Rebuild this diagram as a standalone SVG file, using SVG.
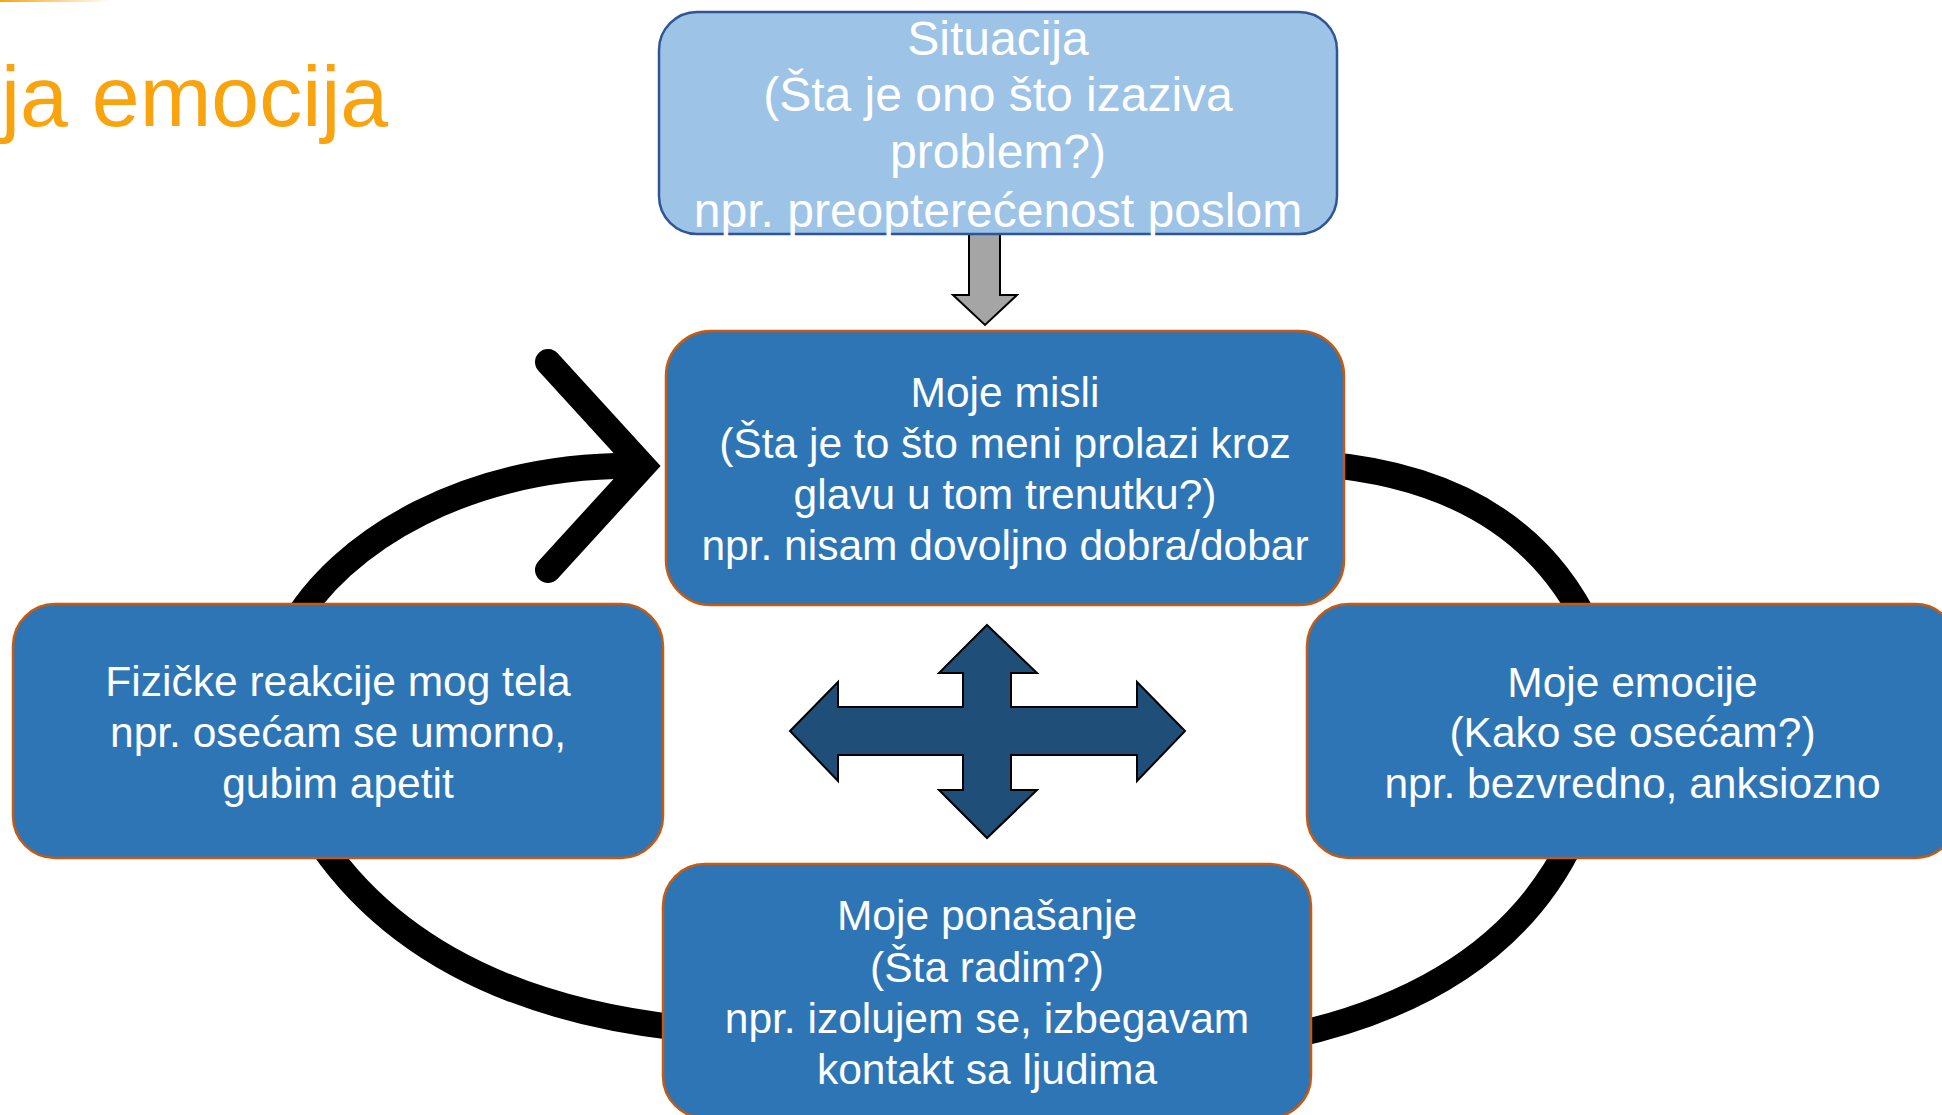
<svg xmlns="http://www.w3.org/2000/svg" width="1942" height="1115" viewBox="0 0 1942 1115">
<defs>
<linearGradient id="topline" x1="0" y1="0" x2="1" y2="0">
<stop offset="0" stop-color="#F9A30E"/>
<stop offset="1" stop-color="#F9A30E" stop-opacity="0"/>
</linearGradient>
</defs>
<style>
.box{fill:#2E75B6;stroke:#C55A11;stroke-width:2.5}
.sit{fill:#9DC3E6;stroke:#2F5597;stroke-width:2.5}
.t{font-family:"Liberation Sans",Arial,sans-serif;fill:#FFFFFF;text-anchor:middle}
.t42{font-size:42.5px}
.t48{font-size:48px}
.ring{fill:none;stroke:#000000;stroke-width:26}
</style>
<rect x="0" y="0" width="112" height="2" fill="url(#topline)"/>
<text x="1" y="126" font-family="Liberation Sans, Arial, sans-serif" font-size="86" fill="#F9A30E">ja emocija</text>
<g id="connectors">
<path class="ring" stroke-linecap="butt" d="M 290 630 C 340 540 470 462 645 466"/>
<polyline class="ring" points="548,362 643,466 548,570" stroke-linecap="round" stroke-linejoin="miter" stroke-width="27"/>
<path class="ring" d="M 1320 464 Q 1520 480 1590 630"/>
<path class="ring" d="M 1572 840 Q 1500 990 1290 1036"/>
<path class="ring" d="M 322 845 Q 430 1000 680 1028"/>
<polygon points="969,234 1000,234 1000,295 1017,295 985,325 953,295 969,295" fill="#A5A5A5" stroke="#000000" stroke-width="2"/>
<polygon points="987,625 1037,673 1011,673 1011,707 1137,707 1137,682 1185,731 1137,781 1137,755 1011,755 1011,790 1037,790 987,838 939,790 963,790 963,755 838,755 838,781 790,731 838,682 838,707 963,707 963,673 939,673" fill="#1F4E79" stroke="#000000" stroke-width="2"/>
</g>
<g id="node-situacija">
<rect class="sit" x="659" y="12" width="678" height="222" rx="38"/>
<text class="t t48" x="998" y="55">Situacija</text>
<text class="t t48" x="998" y="111">(Šta je ono što izaziva</text>
<text class="t t48" x="998" y="168">problem?)</text>
<text class="t t48" x="998" y="227">npr. preopterećenost poslom</text>
</g>
<g id="node-misli">
<rect class="box" x="666" y="331" width="678" height="274" rx="45"/>
<text class="t t42" x="1005" y="407">Moje misli</text>
<text class="t t42" x="1005" y="458">(Šta je to što meni prolazi kroz</text>
<text class="t t42" x="1005" y="509">glavu u tom trenutku?)</text>
<text class="t t42" x="1005" y="560">npr. nisam dovoljno dobra/dobar</text>
</g>
<g id="node-fizicke">
<rect class="box" x="13" y="604" width="650" height="254" rx="42"/>
<text class="t t42" x="338" y="696">Fizičke reakcije mog tela</text>
<text class="t t42" x="338" y="747">npr. osećam se umorno,</text>
<text class="t t42" x="338" y="798">gubim apetit</text>
</g>
<g id="node-emocije">
<rect class="box" x="1307" y="604" width="650" height="254" rx="42"/>
<text class="t t42" x="1632.5" y="697">Moje emocije</text>
<text class="t t42" x="1632.5" y="747">(Kako se osećam?)</text>
<text class="t t42" x="1632.5" y="798">npr. bezvredno, anksiozno</text>
</g>
<g id="node-ponasanje">
<rect class="box" x="663" y="864" width="648" height="254" rx="42"/>
<text class="t t42" x="987" y="930">Moje ponašanje</text>
<text class="t t42" x="987" y="981.5">(Šta radim?)</text>
<text class="t t42" x="987" y="1033">npr. izolujem se, izbegavam</text>
<text class="t t42" x="987" y="1084">kontakt sa ljudima</text>
</g>
</svg>
